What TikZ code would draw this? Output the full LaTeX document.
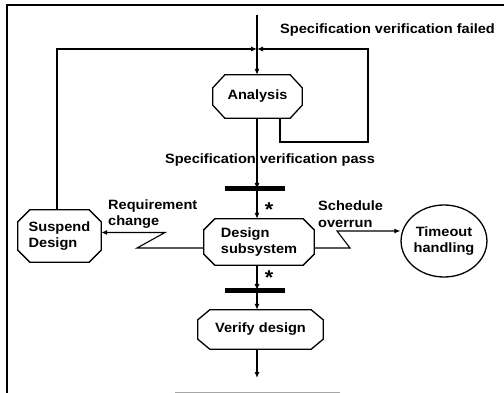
\documentclass[tikz,border=0pt]{standalone}
\usepackage{fontspec}
\setmainfont{Liberation Sans}[FakeStretch=1.08]
\usetikzlibrary{arrows.meta,shapes.geometric}

% octagonal outline around a named node: #1 node name, #2 horizontal cut, #3 vertical cut
\newcommand\octoframe[3]{%
  \draw[octline] ([xshift=#2]#1.north west) -- ([xshift=-#2]#1.north east)
    -- ([yshift=-#3]#1.north east) -- ([yshift=#3]#1.south east)
    -- ([xshift=-#2]#1.south east) -- ([xshift=#2]#1.south west)
    -- ([yshift=#3]#1.south west) -- ([yshift=-#3]#1.north west) -- cycle;}

\begin{document}
\begin{tikzpicture}[x=1pt,y=-1pt,
  every node/.style={font=\fontsize{13.5}{16.5}\selectfont\bfseries},
  stateframe/.style={rectangle, inner sep=0pt, align=left},
  octline/.style={line width=1.3pt, line join=miter},
  flow/.style={line width=1.1pt, -{Latex[length=6pt,width=5pt]}},
  plain/.style={line width=1.1pt},
  syncbar/.style={line width=5pt},
  lbl/.style={inner sep=0pt},
  star/.style={inner sep=0pt, font=\fontsize{20}{20}\selectfont\bfseries}]

\useasboundingbox (0,0) rectangle (504,393);

% frame
\draw[line width=1.3pt] (7,393) -- (7,5) -- (504,5);
\draw[gray!70, line width=1.2pt] (175,392.5) -- (340,392.5);

% states
\node[stateframe, minimum width=89pt, minimum height=43pt] (ana) at (257.5,96.5) {Analysis};
\node[stateframe, minimum width=110pt, minimum height=46pt] (des) at (259,242) {Design\\subsystem};
\node[stateframe, minimum width=125pt, minimum height=39pt] (ver) at (260.5,329.5) {Verify design};
\node[stateframe, minimum width=83pt, minimum height=52pt] (sus) at (59.5,236) {Suspend\\Design};
\node[draw, ellipse, line width=1.3pt, minimum width=85pt, minimum height=72pt,
      inner sep=0pt, align=center] (tmo) at (444,241) {Timeout\\handling};
\octoframe{ana}{12pt}{13pt}
\octoframe{des}{11pt}{11pt}
\octoframe{ver}{12pt}{10pt}
\octoframe{sus}{12pt}{12pt}

% synchronisation bars
\coordinate (b1l) at (225,189); \coordinate (b1r) at (285,189);
\coordinate (b2l) at (225,290); \coordinate (b2r) at (285,290);
\draw[syncbar] (b1l) -- (b1r);
\draw[syncbar] (b2l) -- (b2r);

% entry and exit
\coordinate (in) at (257,15);
\coordinate (out) at (257,378);
\coordinate (join) at (257,49);
\draw[flow] (in) -- (ana.north -| in);

% verification failed loop
\coordinate (fa) at (280,142);
\coordinate (fb) at (368,142);
\coordinate (fc) at (368,49);
\draw[flow] (ana.south -| fa) -- (fa) -- (fb) -- (fc) -- (join);
% suspend loop
\coordinate (sa) at (57,49);
\draw[flow] (sus.north -| sa) -- (sa) -- (join);

% main flow
\draw[flow] (ana.south -| in) -- (b1l -| in);
\draw[flow] (b1l -| in) -- (des.north -| in);
\draw[flow] (des.south -| in) -- (b2l -| in);
\draw[flow] (b2l -| in) -- (ver.north -| in);
\draw[flow] (ver.south -| in) -- (out);

% interrupts
\coordinate (rq1) at (137,248);
\coordinate (rq2) at (165,232.5);
\draw[flow] (des.west |- rq1) -- (rq1) -- (rq2) -- (sus.east |- rq2);
\coordinate (so1) at (350,248);
\coordinate (so2) at (337,231);
\draw[flow] (des.east |- so1) -- (so1) -- (so2) -- (tmo.west |- so2);

% labels
\node[lbl, anchor=west] (lf) at (280,30) {Specification verification failed};
\node[lbl] (lp) at (270,160) {Specification verification pass};
\node[lbl, anchor=west, align=left] (lr) at (108,214) {Requirement\\change};
\node[lbl, anchor=west, align=left] (ls) at (318,214) {Schedule\\overrun};
\node[star] (s1) at (269,210) {*};
\node[star] (s2) at (269,278) {*};

\end{tikzpicture}
\end{document}
